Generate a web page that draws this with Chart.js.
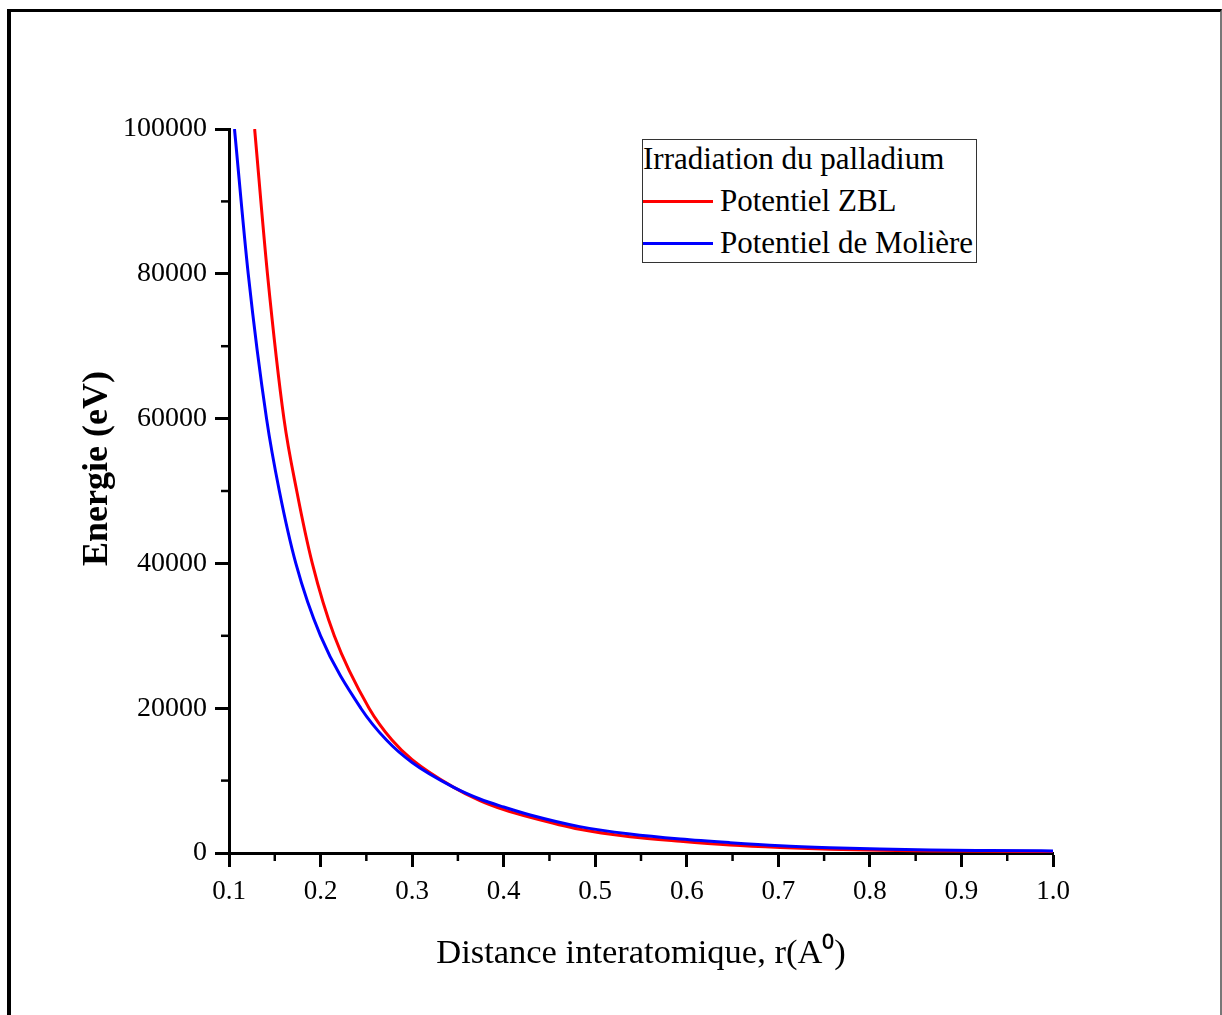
<!DOCTYPE html>
<html>
<head>
<meta charset="utf-8">
<script src="https://cdn.jsdelivr.net/npm/chart.js@4/dist/chart.umd.min.js"></script>
<style>
  body { margin: 0; background: #fff; }
  #wrap { position: relative; width: 1222px; height: 1015px; overflow: hidden; }
  #frame { position: absolute; left: 7px; top: 9px; width: 1209px; height: 1020px;
           border-left: 4px solid #000; border-top: 3px solid #000; border-right: 2px solid #777;
           pointer-events: none; }
  #legend { position: absolute; left: 642px; top: 139px; width: 333px; height: 122px;
            border: 1px solid #333; font-family: "Liberation Serif", serif; font-size: 31px;
            color: #000; background: #fff; }
  #legend .row { position: absolute; left: 0; white-space: nowrap; line-height: 34px; }
  #legend .swatch { position: absolute; left: 0; width: 70px; height: 3px; }
</style>
</head>
<body>
<div id="wrap">
  <canvas id="myChart" width="1222" height="1015"></canvas>
  <div id="frame"></div>
  <div id="legend">
    <div class="row" style="top:2px;left:0px;">Irradiation du palladium</div>
    <div class="swatch" style="top:60px;background:#ff0000;"></div>
    <div class="row" style="top:44px;left:77px;">Potentiel ZBL</div>
    <div class="swatch" style="top:102px;background:#0000ff;"></div>
    <div class="row" style="top:86px;left:77px;">Potentiel de Molière</div>
  </div>
</div>
<script>
// distance r (A) et energie (eV)
var rZbl = [0.128, 0.142, 0.160, 0.174, 0.191, 0.215, 0.253, 0.278, 0.300, 0.345, 0.374, 0.400, 0.429, 0.483, 0.538, 0.593, 0.647, 0.702, 0.756, 0.811, 0.866, 0.930, 1.000];
var eZbl = [100000, 80000, 60000, 50000, 40000, 30000, 20000, 15600, 12900, 9100, 7250, 6000, 4930, 3270, 2250, 1610, 1100, 760, 530, 380, 290, 230, 190];

var rMol = [0.106, 0.121, 0.141, 0.155, 0.173, 0.200, 0.244, 0.272, 0.300, 0.345, 0.374, 0.400, 0.429, 0.483, 0.538, 0.593, 0.647, 0.702, 0.756, 0.811, 0.866, 0.930, 1.000];
var eMol = [100000, 80000, 60000, 50000, 40000, 30000, 20000, 15600, 12500, 9100, 7460, 6350, 5250, 3640, 2620, 1930, 1430, 1010, 740, 550, 410, 340, 290];

var xTicks = [0.1, 0.2, 0.3, 0.4, 0.5, 0.6, 0.7, 0.8, 0.9, 1.0];
var yTicks = [0, 20000, 40000, 60000, 80000, 100000];
var xMinor = [0.15, 0.25, 0.35, 0.45, 0.55, 0.65, 0.75, 0.85, 0.95];
var yMinor = [10000, 30000, 50000, 70000, 90000];

function pts(xs, ys) {
  var out = [];
  for (var i = 0; i < xs.length; i++) out.push({ x: xs[i], y: ys[i] });
  return out;
}

// petits traits secondaires sur les axes
var minorTicks = {
  id: "minorTicks",
  afterDraw: function (chart) {
    var ctx = chart.ctx, xs = chart.scales.x, ys = chart.scales.y;
    ctx.save();
    ctx.strokeStyle = "#000";
    ctx.lineWidth = 2.5;
    xMinor.forEach(function (v) {
      var px = xs.getPixelForValue(v);
      ctx.beginPath(); ctx.moveTo(px, ys.bottom); ctx.lineTo(px, ys.bottom + 8); ctx.stroke();
    });
    yMinor.forEach(function (v) {
      var py = ys.getPixelForValue(v);
      ctx.beginPath(); ctx.moveTo(xs.left, py); ctx.lineTo(xs.left - 8, py); ctx.stroke();
    });
    ctx.restore();
  }
};

var serif = "'Liberation Serif', 'Times New Roman', serif";

var myChart = new Chart(document.getElementById("myChart"), {
  type: "line",
  data: {
    datasets: [
      { label: "Potentiel ZBL", data: pts(rZbl, eZbl), borderColor: "#ff0000", borderWidth: 3,
        pointRadius: 0, cubicInterpolationMode: "monotone", order: 2 },
      { label: "Potentiel de Molière", data: pts(rMol, eMol), borderColor: "#0000ff", borderWidth: 3,
        pointRadius: 0, cubicInterpolationMode: "monotone", order: 1 }
    ]
  },
  options: {
    responsive: false,
    animation: false,
    layout: { padding: { top: 129, right: 169, left: 0, bottom: 0 } },
    plugins: { legend: { display: false }, tooltip: { enabled: false } },
    scales: {
      x: {
        type: "linear", min: 0.1, max: 1.0,
        afterBuildTicks: function (s) { s.ticks = xTicks.map(function (v) { return { value: v }; }); },
        afterFit: function (s) { s.height = 162; },
        grid: { drawOnChartArea: false, tickLength: 14, tickWidth: 3, tickColor: "#000" },
        border: { color: "#000", width: 3 },
        ticks: { color: "#000", padding: 9, maxRotation: 0, font: { family: serif, size: 27 },
                 callback: function (v) { return Number(v).toFixed(1); } },
        title: { display: true, text: "Distance interatomique, r(A\u2070)", color: "#000",
                 font: { family: serif, size: 34.5 }, padding: { bottom: 40 } }
      },
      y: {
        type: "linear", min: 0, max: 100000,
        afterBuildTicks: function (s) { s.ticks = yTicks.map(function (v) { return { value: v }; }); },
        afterFit: function (s) { s.width = 229; },
        grid: { drawOnChartArea: false, tickLength: 14, tickWidth: 3, tickColor: "#000" },
        border: { color: "#000", width: 3 },
        ticks: { color: "#000", padding: 8, font: { family: serif, size: 28 },
                 callback: function (v) { return String(v); } },
        title: { display: true, text: "     Energie (eV)", color: "#000",
                 font: { family: serif, size: 36, weight: "bold" }, padding: { top: 76 } }
      }
    }
  },
  plugins: [minorTicks]
});
</script>
</body>
</html>
